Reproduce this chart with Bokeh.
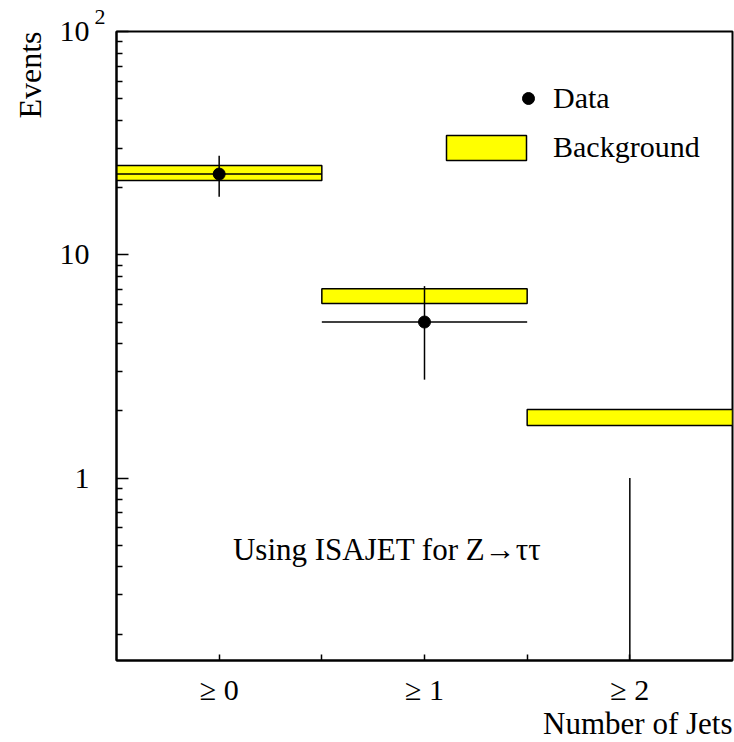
import numpy as np
from bokeh.plotting import figure
from bokeh.models import Range1d, FixedTicker, Label, Legend, LegendItem, Title, LinearAxis
from bokeh.embed import file_html
from bokeh.resources import INLINE

# ---- data ----
categories = ["≥ 0", "≥ 1", "≥ 2"]
bin_centers = [0, 1, 2]
data_values = [23, 5, 0]
data_errors = [4.8, 2.24, 1.0]
bg_low = [21.5, 6.05, 1.72]
bg_high = [25.1, 7.05, 2.03]
y_major = [1, 10, 100]
y_major_labels = ["1", "10", "10"]
y_top_exponent = "2"

FONT = "Liberation Serif"
FS = "30px"
Y_MIN, Y_MAX = 0.1525, 100
X_MIN, X_MAX = -0.5, 2.5
FRAME_W, FRAME_H = 617, 630
PX_X = FRAME_W / (X_MAX - X_MIN)
PX_DEC = FRAME_H / (np.log10(Y_MAX) - np.log10(Y_MIN))


def xpx(dx_px, base):
    return base + dx_px / PX_X


def ypx(dy_px, base):
    return base * 10 ** (dy_px / PX_DEC)


p = figure(width=734, height=742, y_axis_type="log",
           x_range=Range1d(X_MIN, X_MAX), y_range=Range1d(Y_MIN, Y_MAX),
           output_backend="svg", toolbar_location=None,
           min_border_left=115, min_border_right=2, min_border_top=30, min_border_bottom=82)
p.outline_line_color = "black"
p.outline_line_width = 2
p.xgrid.visible = False
p.ygrid.visible = False
p.background_fill_color = "white"
p.border_fill_color = "white"

centers = np.array(bin_centers, dtype=float)
vals = np.array(data_values, dtype=float)
errs = np.array(data_errors, dtype=float)

# background boxes
bg = p.quad(left=centers - 0.5, right=centers + 0.5, bottom=bg_low, top=bg_high,
            fill_color="#ffff00", line_color="black", line_width=1.5)

# data error bars
mask = vals > 0
p.segment(x0=(centers - 0.5)[mask], x1=(centers + 0.5)[mask], y0=vals[mask], y1=vals[mask],
          line_color="black", line_width=1.5)
p.segment(x0=centers, x1=centers, y0=np.maximum(vals - errs, Y_MIN / 2), y1=vals + errs,
          line_color="black", line_width=1.5)
pts = p.scatter(x=centers[mask], y=vals[mask], size=12, marker="circle",
                fill_color="black", line_color="black")

# axes
xt = [0, 0.5, 1, 1.5, 2]
p.xaxis.ticker = FixedTicker(ticks=xt, minor_ticks=[])
ov = {t: "" for t in xt}
for c, lab in zip(bin_centers, categories):
    ov[c] = lab
p.xaxis.major_label_overrides = ov
p.xaxis.major_tick_in = 6
p.xaxis.major_tick_out = 0
p.xaxis.major_tick_line_width = 1.5
p.xaxis.axis_line_width = 2
p.xaxis.major_label_standoff = 12
p.xaxis.major_label_text_font = FONT
p.xaxis.major_label_text_font_size = FS
p.xaxis.major_label_text_color = "black"

minor = [m * 10.0 ** e for e in (-1, 0, 1) for m in range(2, 10)]
minor = [m for m in minor if Y_MIN < m < Y_MAX]
p.yaxis.ticker = FixedTicker(ticks=y_major, minor_ticks=minor)
p.yaxis.major_label_overrides = dict(zip(y_major, y_major_labels))
p.yaxis.major_tick_in = 12
p.yaxis.major_tick_out = 0
p.yaxis.minor_tick_in = 6
p.yaxis.minor_tick_out = 0
p.yaxis.major_tick_line_width = 1.5
p.yaxis.minor_tick_line_width = 1.5
p.yaxis.axis_line_width = 2
p.yaxis.major_label_standoff = 27
p.yaxis.major_label_text_font = FONT
p.yaxis.major_label_text_font_size = FS
p.yaxis.major_label_text_color = "black"


def title(text, align, size=FS, offset=0, standoff=0, valign="bottom"):
    return Title(text=text, align=align, offset=offset, standoff=standoff,
                 vertical_align=valign,
                 text_font=FONT, text_font_size=size, text_font_style="normal",
                 text_color="black")


# axis titles (end-aligned, as in the reference)
p.add_layout(title("Events", "right", size="32px", standoff=18), "left")
p.add_layout(title("Number of Jets", "right", size="31px", standoff=-10), "below")

# exponent of the top y label (10^2), just left of the frame's top-left corner
sup_axis = LinearAxis(ticker=FixedTicker(ticks=[], minor_ticks=[]),
                      axis_line_color=None, major_tick_line_color=None,
                      minor_tick_line_color=None, major_label_text_font_size="0px",
                      axis_label=y_top_exponent + "\u2003\u2002",
                      axis_label_text_font=FONT, axis_label_text_font_size="22px",
                      axis_label_text_font_style="normal", axis_label_text_color="black",
                      axis_label_standoff=3)
try:
    sup_axis.axis_label_align = "start"
except Exception:
    pass
p.add_layout(sup_axis, "above")

# annotation inside the frame
p.add_layout(Label(x=xpx(271, X_MIN), y=ypx(-71, 1), text="Using ISAJET for Z→ττ",
                   text_font=FONT, text_font_size="31px", text_color="black",
                   text_align="center", text_baseline="middle"))

# legends
def mk_legend(item, loc, gw, gh, standoff):
    return Legend(items=[item], location=loc, glyph_width=gw, glyph_height=gh,
                  label_standoff=standoff, padding=0, margin=0, spacing=0,
                  border_line_color=None, background_fill_alpha=0,
                  label_text_font=FONT, label_text_font_size=FS, label_text_color="black")

p.add_layout(mk_legend(LegendItem(label="Data", renderers=[pts]), (397, 545), 30, 30, 10), "center")
p.add_layout(mk_legend(LegendItem(label="Background", renderers=[bg]), (320, 496), 100, 31, 17), "center")

open("out.html", "w").write(file_html(p, INLINE))
